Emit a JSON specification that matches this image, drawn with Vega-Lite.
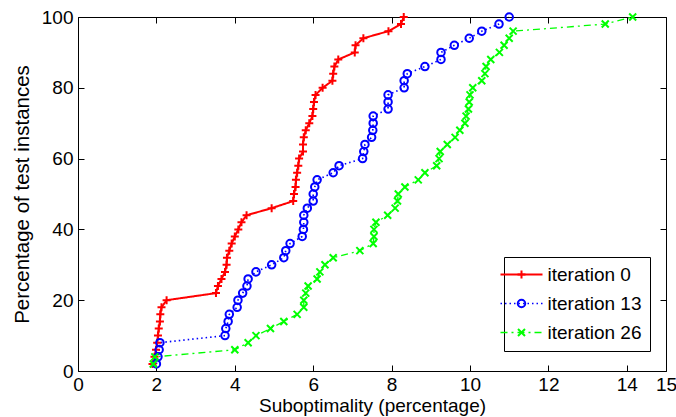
{
  "$schema": "https://vega.github.io/schema/vega-lite/v6.json",
  "width": 588,
  "height": 354,
  "autosize": {"type": "none"},
  "padding": {"left": 78, "top": 17, "right": 10, "bottom": 46},
  "background": "white",
  "config": {
    "view": {"stroke": null},
    "font": "Liberation Sans",
    "axis": {
      "grid": false,
      "domainColor": "#000000",
      "domainWidth": 1,
      "tickColor": "#000000",
      "tickWidth": 1,
      "tickSize": -6,
      "labelFontSize": 19,
      "labelColor": "#000000",
      "titleFontSize": 19,
      "titleFontWeight": "normal",
      "titleColor": "#000000"
    }
  },
  "data": {
    "values": [
      {"series": "iteration 0", "x": 1.90, "y": 2}, {"series": "iteration 0", "x": 1.95, "y": 4}, {"series": "iteration 0", "x": 1.99, "y": 6}, {"series": "iteration 0", "x": 2.02, "y": 8}, {"series": "iteration 0", "x": 2.04, "y": 10},
      {"series": "iteration 0", "x": 2.06, "y": 12}, {"series": "iteration 0", "x": 2.09, "y": 14}, {"series": "iteration 0", "x": 2.10, "y": 16}, {"series": "iteration 0", "x": 2.13, "y": 18}, {"series": "iteration 0", "x": 2.26, "y": 20},
      {"series": "iteration 0", "x": 3.52, "y": 22}, {"series": "iteration 0", "x": 3.57, "y": 24}, {"series": "iteration 0", "x": 3.66, "y": 26}, {"series": "iteration 0", "x": 3.75, "y": 28}, {"series": "iteration 0", "x": 3.79, "y": 30},
      {"series": "iteration 0", "x": 3.80, "y": 32}, {"series": "iteration 0", "x": 3.86, "y": 34}, {"series": "iteration 0", "x": 3.92, "y": 36}, {"series": "iteration 0", "x": 4.00, "y": 38}, {"series": "iteration 0", "x": 4.09, "y": 40},
      {"series": "iteration 0", "x": 4.17, "y": 42}, {"series": "iteration 0", "x": 4.30, "y": 44}, {"series": "iteration 0", "x": 4.94, "y": 46}, {"series": "iteration 0", "x": 5.49, "y": 48}, {"series": "iteration 0", "x": 5.51, "y": 50},
      {"series": "iteration 0", "x": 5.55, "y": 52}, {"series": "iteration 0", "x": 5.56, "y": 54}, {"series": "iteration 0", "x": 5.59, "y": 56}, {"series": "iteration 0", "x": 5.62, "y": 58}, {"series": "iteration 0", "x": 5.64, "y": 60},
      {"series": "iteration 0", "x": 5.74, "y": 62}, {"series": "iteration 0", "x": 5.74, "y": 64}, {"series": "iteration 0", "x": 5.76, "y": 66}, {"series": "iteration 0", "x": 5.81, "y": 68}, {"series": "iteration 0", "x": 5.90, "y": 70},
      {"series": "iteration 0", "x": 5.98, "y": 72}, {"series": "iteration 0", "x": 6.00, "y": 74}, {"series": "iteration 0", "x": 6.02, "y": 76}, {"series": "iteration 0", "x": 6.06, "y": 78}, {"series": "iteration 0", "x": 6.24, "y": 80},
      {"series": "iteration 0", "x": 6.49, "y": 82}, {"series": "iteration 0", "x": 6.51, "y": 84}, {"series": "iteration 0", "x": 6.54, "y": 86}, {"series": "iteration 0", "x": 6.64, "y": 88}, {"series": "iteration 0", "x": 7.06, "y": 90},
      {"series": "iteration 0", "x": 7.08, "y": 92}, {"series": "iteration 0", "x": 7.28, "y": 94}, {"series": "iteration 0", "x": 7.92, "y": 96}, {"series": "iteration 0", "x": 8.24, "y": 98}, {"series": "iteration 0", "x": 8.31, "y": 100},

      {"series": "iteration 13", "x": 2.00, "y": 2}, {"series": "iteration 13", "x": 2.04, "y": 4}, {"series": "iteration 13", "x": 2.07, "y": 6}, {"series": "iteration 13", "x": 2.09, "y": 8}, {"series": "iteration 13", "x": 3.75, "y": 10},
      {"series": "iteration 13", "x": 3.77, "y": 12}, {"series": "iteration 13", "x": 3.83, "y": 14}, {"series": "iteration 13", "x": 3.86, "y": 16}, {"series": "iteration 13", "x": 4.06, "y": 18}, {"series": "iteration 13", "x": 4.08, "y": 20},
      {"series": "iteration 13", "x": 4.20, "y": 22}, {"series": "iteration 13", "x": 4.31, "y": 24}, {"series": "iteration 13", "x": 4.34, "y": 26}, {"series": "iteration 13", "x": 4.54, "y": 28}, {"series": "iteration 13", "x": 4.94, "y": 30},
      {"series": "iteration 13", "x": 5.25, "y": 32}, {"series": "iteration 13", "x": 5.30, "y": 34}, {"series": "iteration 13", "x": 5.41, "y": 36}, {"series": "iteration 13", "x": 5.72, "y": 38}, {"series": "iteration 13", "x": 5.75, "y": 40},
      {"series": "iteration 13", "x": 5.76, "y": 42}, {"series": "iteration 13", "x": 5.76, "y": 44}, {"series": "iteration 13", "x": 5.85, "y": 46}, {"series": "iteration 13", "x": 6.00, "y": 48}, {"series": "iteration 13", "x": 6.00, "y": 50},
      {"series": "iteration 13", "x": 6.04, "y": 52}, {"series": "iteration 13", "x": 6.10, "y": 54}, {"series": "iteration 13", "x": 6.51, "y": 56}, {"series": "iteration 13", "x": 6.66, "y": 58}, {"series": "iteration 13", "x": 7.26, "y": 60},
      {"series": "iteration 13", "x": 7.29, "y": 62}, {"series": "iteration 13", "x": 7.32, "y": 64}, {"series": "iteration 13", "x": 7.49, "y": 66}, {"series": "iteration 13", "x": 7.52, "y": 68}, {"series": "iteration 13", "x": 7.53, "y": 70},
      {"series": "iteration 13", "x": 7.53, "y": 72}, {"series": "iteration 13", "x": 7.91, "y": 74}, {"series": "iteration 13", "x": 7.91, "y": 76}, {"series": "iteration 13", "x": 7.91, "y": 78}, {"series": "iteration 13", "x": 8.32, "y": 80},
      {"series": "iteration 13", "x": 8.32, "y": 82}, {"series": "iteration 13", "x": 8.40, "y": 84}, {"series": "iteration 13", "x": 8.85, "y": 86}, {"series": "iteration 13", "x": 9.26, "y": 88}, {"series": "iteration 13", "x": 9.26, "y": 90},
      {"series": "iteration 13", "x": 9.60, "y": 92}, {"series": "iteration 13", "x": 9.98, "y": 94}, {"series": "iteration 13", "x": 10.30, "y": 96}, {"series": "iteration 13", "x": 10.74, "y": 98}, {"series": "iteration 13", "x": 11.00, "y": 100},

      {"series": "iteration 26", "x": 1.92, "y": 2}, {"series": "iteration 26", "x": 1.96, "y": 4}, {"series": "iteration 26", "x": 4.00, "y": 6}, {"series": "iteration 26", "x": 4.34, "y": 8}, {"series": "iteration 26", "x": 4.54, "y": 10},
      {"series": "iteration 26", "x": 4.91, "y": 12}, {"series": "iteration 26", "x": 5.25, "y": 14}, {"series": "iteration 26", "x": 5.59, "y": 16}, {"series": "iteration 26", "x": 5.76, "y": 18}, {"series": "iteration 26", "x": 5.76, "y": 20},
      {"series": "iteration 26", "x": 5.81, "y": 22}, {"series": "iteration 26", "x": 5.87, "y": 24}, {"series": "iteration 26", "x": 6.10, "y": 26}, {"series": "iteration 26", "x": 6.17, "y": 28}, {"series": "iteration 26", "x": 6.30, "y": 30},
      {"series": "iteration 26", "x": 6.51, "y": 32}, {"series": "iteration 26", "x": 7.19, "y": 34}, {"series": "iteration 26", "x": 7.53, "y": 36}, {"series": "iteration 26", "x": 7.55, "y": 38}, {"series": "iteration 26", "x": 7.55, "y": 40},
      {"series": "iteration 26", "x": 7.60, "y": 42}, {"series": "iteration 26", "x": 7.90, "y": 44}, {"series": "iteration 26", "x": 8.09, "y": 46}, {"series": "iteration 26", "x": 8.15, "y": 48}, {"series": "iteration 26", "x": 8.17, "y": 50},
      {"series": "iteration 26", "x": 8.34, "y": 52}, {"series": "iteration 26", "x": 8.68, "y": 54}, {"series": "iteration 26", "x": 8.85, "y": 56}, {"series": "iteration 26", "x": 9.15, "y": 58}, {"series": "iteration 26", "x": 9.21, "y": 60},
      {"series": "iteration 26", "x": 9.24, "y": 62}, {"series": "iteration 26", "x": 9.42, "y": 64}, {"series": "iteration 26", "x": 9.62, "y": 66}, {"series": "iteration 26", "x": 9.74, "y": 68}, {"series": "iteration 26", "x": 9.87, "y": 70},
      {"series": "iteration 26", "x": 9.90, "y": 72}, {"series": "iteration 26", "x": 9.96, "y": 74}, {"series": "iteration 26", "x": 9.98, "y": 76}, {"series": "iteration 26", "x": 10.00, "y": 78}, {"series": "iteration 26", "x": 10.07, "y": 80},
      {"series": "iteration 26", "x": 10.30, "y": 82}, {"series": "iteration 26", "x": 10.38, "y": 84}, {"series": "iteration 26", "x": 10.41, "y": 86}, {"series": "iteration 26", "x": 10.53, "y": 88}, {"series": "iteration 26", "x": 10.75, "y": 90},
      {"series": "iteration 26", "x": 10.87, "y": 92}, {"series": "iteration 26", "x": 11.00, "y": 94}, {"series": "iteration 26", "x": 11.10, "y": 96}, {"series": "iteration 26", "x": 13.45, "y": 98}, {"series": "iteration 26", "x": 14.15, "y": 100}
    ]
  },
  "resolve": {"axis": {"x": "independent", "y": "independent"}},
  "layer": [
    {
      "mark": {"type": "line", "strokeCap": "butt"},
      "encoding": {
        "x": {
          "field": "x", "type": "quantitative",
          "scale": {"domain": [0, 15], "nice": false, "zero": false},
          "axis": {"orient": "bottom", "values": [0, 2, 4, 6, 8, 10, 12, 14, 15], "title": "Suboptimality (percentage)", "labelPadding": 10, "titlePadding": 2, "labelFlush": false}
        },
        "y": {
          "field": "y", "type": "quantitative",
          "scale": {"domain": [0, 100], "nice": false, "zero": false},
          "axis": {"orient": "left", "values": [0, 20, 40, 60, 80, 100], "title": "Percentage of  test instances", "titleFontSize": 20.5, "labelPadding": 11, "titlePadding": 9, "labelFlush": false}
        },
        "order": {"field": "y", "type": "quantitative"},
        "color": {
          "field": "series", "type": "nominal",
          "scale": {"range": ["#ff0000", "#0000ff", "#00ff00"]},
          "legend": {
            "orient": "none", "legendX": 426, "legendY": 240, "title": null,
            "symbolType": "M-4.2,0L4.2,0", "symbolSize": 100,
            "labelOffset": 16.5, "labelFontSize": 19, "labelColor": "#000000", "labelFont": "Liberation Sans",
            "strokeColor": "#000000", "padding": 8, "rowPadding": 9, "fillColor": "white"
          }
        },
        "strokeDash": {
          "field": "series", "type": "nominal",
          "scale": {"range": [[1, 0], [1.5, 3], [7, 4, 2, 4]]}
        },
        "strokeWidth": {
          "field": "series", "type": "nominal",
          "scale": {"range": [2, 1.3, 2]}
        }
      }
    },
    {
      "mark": {"type": "point", "filled": false, "strokeWidth": 2, "opacity": 1},
      "encoding": {
        "x": {
          "field": "x", "type": "quantitative",
          "axis": {"orient": "top", "values": [0, 2, 4, 6, 8, 10, 12, 14, 15], "labels": false, "title": null}
        },
        "y": {
          "field": "y", "type": "quantitative",
          "axis": {"orient": "right", "values": [0, 20, 40, 60, 80, 100], "labels": false, "title": null}
        },
        "stroke": {
          "field": "series", "type": "nominal",
          "scale": {"domain": ["iteration 0", "iteration 13", "iteration 26"], "range": ["#ff0000", "#0000ff", "#00ff00"]},
          "legend": {
            "orient": "none", "legendX": 426, "legendY": 240, "title": null,
            "labelOffset": 16.5, "labelFontSize": 19, "labelColor": "transparent",
            "padding": 8, "rowPadding": 9, "symbolStrokeWidth": 2
          }
        },
        "shape": {
          "field": "series", "type": "nominal",
          "scale": {"domain": ["iteration 0", "iteration 13", "iteration 26"], "range": ["M-1,0L1,0M0,-1L0,1", "circle", "M-1,-1L1,1M-1,1L1,-1"]}
        },
        "size": {
          "field": "series", "type": "nominal",
          "scale": {"domain": ["iteration 0", "iteration 13", "iteration 26"], "range": [64, 49, 36]}
        }
      }
    }
  ]
}
